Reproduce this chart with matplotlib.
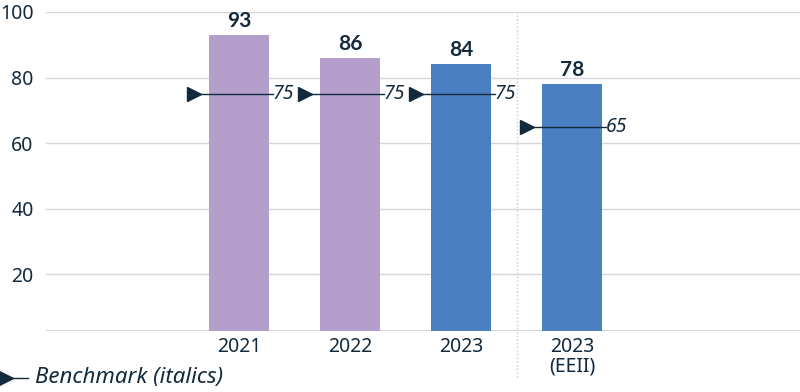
import matplotlib.pyplot as plt
from matplotlib.lines import Line2D

plt.rcParams['font.family'] = ['Noto Sans', 'DejaVu Sans']

categorias = ["2021", "2022", "2023", "2023\n(EEII)"]
valores = [93, 86, 84, 78]
benchmarks = [75, 75, 75, 65]
cores = ["#b49fcc", "#b49fcc", "#4a7fc1", "#4a7fc1"]

navy = "#13293d"
cinza = "#d6d6de"

fig = plt.figure(figsize=(8, 3.92), dpi=100)
ax = fig.add_axes([46 / 800, 1 - 331 / 392, 1 - 46 / 800, (331 - 12) / 392])

x = list(range(len(categorias)))
ax.bar(x, valores, width=0.54, color=cores, zorder=2)

# rotulos de valor em cima das barras
for xi, v in zip(x, valores):
    ax.annotate(str(v), (xi, v), xytext=(0, 3), textcoords="offset points",
                ha="center", va="bottom", fontsize=15, fontweight="bold",
                family=["Lato", "DejaVu Sans"], color=navy)

# benchmark: triangulo + linha + numero em italico
for xi, b in zip(x, benchmarks):
    ax.plot([xi - 0.41, xi + 0.30], [b, b], color=navy, lw=1, zorder=3)
    ax.plot(xi - 0.41, b, marker=">", ms=10, color=navy, zorder=4)
    ax.text(xi + 0.30, b, str(b), ha="left", va="center", fontsize=14,
            fontstyle="italic", color=navy, zorder=4)

ax.set_xlim(-1.74, 5.05)
ax.set_ylim(2.6, 100)
ax.set_yticks([20, 40, 60, 80, 100])
ax.set_xticks(x)
ax.set_xticklabels(categorias, linespacing=1.0)
ax.yaxis.grid(True, color=cinza, lw=1, zorder=0)
ax.axhline(2.6, color=cinza, lw=1.5, zorder=1)
ax.tick_params(axis="both", length=0, labelsize=14, colors=navy)
ax.tick_params(axis="y", pad=9)
ax.tick_params(axis="x", pad=4)
for s in ax.spines.values():
    s.set_visible(False)

# separador pontilhado
ax.axvline(2.5, ymin=-46 / 319, ymax=1, color="#c8c8d0", lw=1, ls=":", clip_on=False, zorder=1)

# legenda
fig.add_artist(Line2D([6 / 800, 28 / 800], [1 - 378 / 392] * 2, color=navy, lw=1))
fig.add_artist(Line2D([6 / 800], [1 - 378 / 392], marker=">", ms=10, color=navy))
fig.text(35 / 800, 1 - 378 / 392, "Benchmark (italics)", ha="left", va="center",
         fontsize=16, fontstyle="italic", color=navy)

fig.savefig("out.png", dpi=100)
